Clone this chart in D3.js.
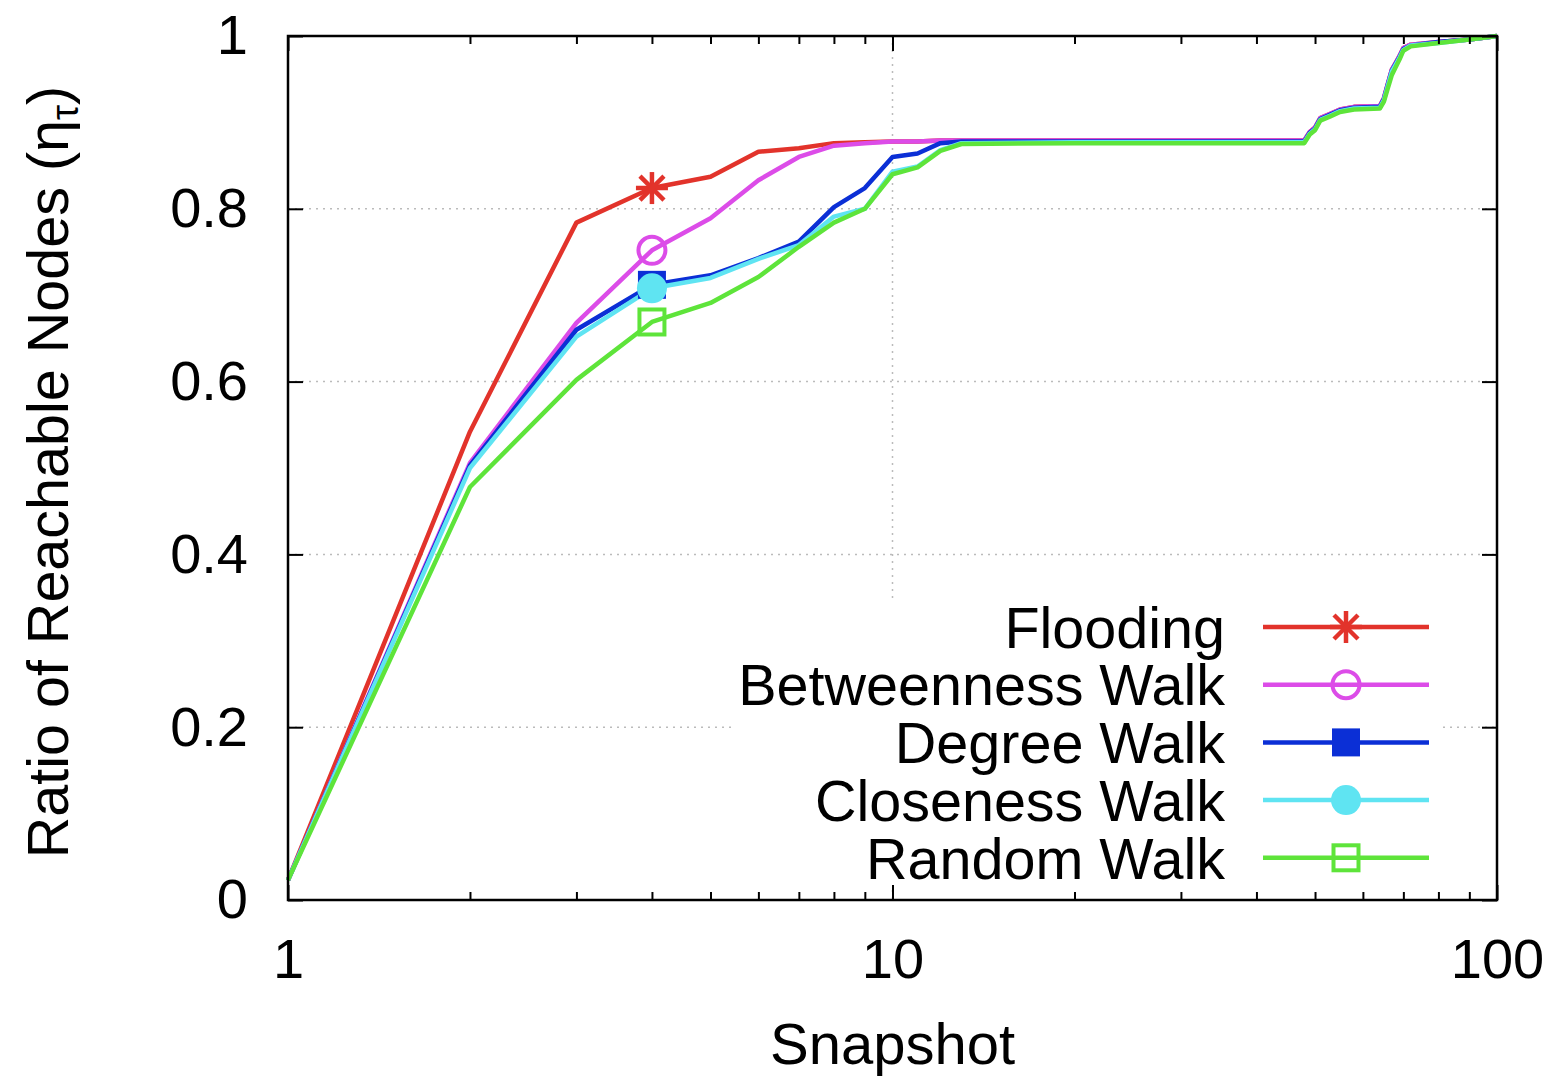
<!DOCTYPE html>
<html>
<head>
<meta charset="utf-8">
<script src="https://cdn.jsdelivr.net/npm/d3@7"></script>
<style>
body{margin:0;background:#fff;}
text{font-family:"Liberation Sans",Arial,Helvetica,sans-serif;fill:#000;}
</style>
</head>
<body>
<svg id="chart" width="1559" height="1076"></svg>
<script>
// snapshots (x) and ratio of reachable nodes per method
var snapshots=[1,2,3,4,5,6,7,8,9,10,11,12,13,20,30,40,48,49,50,51,53,55,58,64,65,66,67,68,69,70,72,80,90,100];
var flooding=[0.023,0.542,0.784,0.824,0.837,0.866,0.870,0.876,0.877,0.878,0.878,0.879,0.879,0.879,0.879,0.879,0.879,0.889,0.894,0.905,0.910,0.915,0.918,0.919,0.928,0.945,0.961,0.969,0.977,0.986,0.990,0.993,0.996,1.0];
var betweenness=[0.023,0.506,0.668,0.752,0.789,0.833,0.860,0.873,0.876,0.878,0.878,0.879,0.879,0.879,0.879,0.879,0.879,0.889,0.894,0.905,0.910,0.915,0.918,0.919,0.928,0.945,0.961,0.969,0.977,0.986,0.990,0.993,0.996,1.0];
var degree=[0.023,0.503,0.660,0.712,0.723,0.743,0.762,0.802,0.824,0.860,0.864,0.876,0.878,0.878,0.878,0.878,0.878,0.888,0.893,0.904,0.909,0.914,0.917,0.918,0.927,0.944,0.960,0.968,0.976,0.985,0.989,0.993,0.996,1.0];
var closeness=[0.023,0.500,0.652,0.708,0.720,0.742,0.758,0.791,0.800,0.843,0.849,0.868,0.876,0.877,0.877,0.877,0.877,0.887,0.892,0.903,0.908,0.913,0.916,0.917,0.926,0.943,0.959,0.967,0.975,0.984,0.989,0.992,0.996,1.0];
var randomWalk=[0.023,0.478,0.602,0.669,0.691,0.721,0.756,0.784,0.800,0.840,0.848,0.867,0.875,0.876,0.876,0.876,0.876,0.886,0.891,0.902,0.907,0.912,0.915,0.916,0.924,0.940,0.955,0.964,0.973,0.983,0.988,0.992,0.996,1.0];
var seriesNames=["Flooding","Betweenness Walk","Degree Walk","Closeness Walk","Random Walk"];
var seriesColors=["#e2332b","#dc4ce8","#0b2fd6","#5fe4f2","#5ee43a"];
var seriesMarkers=["star","circle","squareFilled","circleFilled","square"];
var markerAt=4;
var yTicks=[0,0.2,0.4,0.6,0.8,1];
var yTickLabels=["0","0.2","0.4","0.6","0.8","1"];
var xMajor=[1,10,100];
var xMinor=[2,3,4,5,6,7,8,9,20,30,40,50,60,70,80,90];

var allSeries=[flooding,betweenness,degree,closeness,randomWalk];

var pLeft=288,pRight=1497,pTop=36,pBottom=900;
var svg=d3.select("#chart");
var x=d3.scaleLog().domain([1,100]).range([pLeft,pRight]);
var y=d3.scaleLinear().domain([0,1]).range([pBottom,pTop]);

// grid
var grid=svg.append("g").attr("stroke","#bbb").attr("stroke-width",1.5).attr("stroke-dasharray","2,5");
grid.selectAll("line.h").data(yTicks.slice(1,-1)).enter().append("line")
  .attr("x1",pLeft).attr("x2",pRight).attr("y1",function(d){return y(d)}).attr("y2",function(d){return y(d)});
grid.append("line").attr("x1",x(10)).attr("x2",x(10)).attr("y1",pTop).attr("y2",pBottom);

// lines
var line=d3.line().x(function(d){return x(d[0])}).y(function(d){return y(d[1])});
allSeries.forEach(function(vals,i){
  var pts=snapshots.map(function(s,j){return [s,vals[j]]});
  svg.append("path").datum(pts).attr("d",line).attr("fill","none")
    .attr("stroke",seriesColors[i]).attr("stroke-width",4.5).attr("stroke-linejoin","round");
});

function marker(g,type,cx,cy,color){
  if(type=="star"){
    var r=16;
    [[-r,0,r,0],[0,-r,0,r],[-r*0.75,-r*0.75,r*0.75,r*0.75],[-r*0.75,r*0.75,r*0.75,-r*0.75]].forEach(function(s){
      g.append("line").attr("x1",cx+s[0]).attr("y1",cy+s[1]).attr("x2",cx+s[2]).attr("y2",cy+s[3])
        .attr("stroke",color).attr("stroke-width",4.5);
    });
  }else if(type=="circle"){
    g.append("circle").attr("cx",cx).attr("cy",cy).attr("r",13.5).attr("fill","none").attr("stroke",color).attr("stroke-width",4);
  }else if(type=="circleFilled"){
    g.append("circle").attr("cx",cx).attr("cy",cy).attr("r",15).attr("fill",color);
  }else if(type=="squareFilled"){
    g.append("rect").attr("x",cx-14).attr("y",cy-14).attr("width",28).attr("height",28).attr("fill",color);
  }else{
    g.append("rect").attr("x",cx-12.5).attr("y",cy-12.5).attr("width",25).attr("height",25).attr("fill","none").attr("stroke",color).attr("stroke-width",4);
  }
}

var marks=svg.append("g");
allSeries.forEach(function(vals,i){
  var j=snapshots.indexOf(markerAt);
  marker(marks,seriesMarkers[i],x(markerAt),y(vals[j]),seriesColors[i]);
});

// legend (opaque box)
svg.append("rect").attr("x",732).attr("y",600).attr("width",708).attr("height",285).attr("fill","#fff");
var leg=svg.append("g");
seriesNames.forEach(function(n,i){
  var ly=627+i*57.7;
  leg.append("text").attr("x",1225).attr("y",ly).attr("dy","0.36em").attr("text-anchor","end")
    .attr("font-size",57.5).text(n);
  leg.append("line").attr("x1",1263).attr("x2",1429).attr("y1",ly).attr("y2",ly)
    .attr("stroke",seriesColors[i]).attr("stroke-width",4.5);
  marker(leg,seriesMarkers[i],1346,ly,seriesColors[i]);
});

// axes
function styleAxis(g){
  g.select(".domain").remove();
  g.selectAll(".tick line").attr("stroke","#000").attr("stroke-width",2);
  g.selectAll(".tick text").attr("font-size",56).attr("fill","#000").style("font-family","Liberation Sans, Arial, sans-serif");
}
svg.append("g").attr("transform","translate(0,"+pBottom+")")
  .call(d3.axisBottom(x).tickValues(xMajor).tickFormat(d3.format("d")).tickSizeInner(-15).tickPadding(38))
  .call(styleAxis);
svg.append("g").attr("transform","translate(0,"+pBottom+")")
  .call(d3.axisBottom(x).tickValues(xMinor).tickFormat("").tickSizeInner(-8))
  .call(styleAxis);
svg.append("g").attr("transform","translate(0,"+pTop+")")
  .call(d3.axisTop(x).tickValues(xMajor).tickFormat("").tickSizeInner(-15))
  .call(styleAxis);
svg.append("g").attr("transform","translate(0,"+pTop+")")
  .call(d3.axisTop(x).tickValues(xMinor).tickFormat("").tickSizeInner(-8))
  .call(styleAxis);
svg.append("g").attr("transform","translate("+pLeft+",0)")
  .call(d3.axisLeft(y).tickValues(yTicks).tickFormat(function(d,i){return yTickLabels[i]}).tickSizeInner(-15).tickPadding(40))
  .call(styleAxis);
svg.append("g").attr("transform","translate("+pRight+",0)")
  .call(d3.axisRight(y).tickValues(yTicks).tickFormat("").tickSizeInner(-15))
  .call(styleAxis);

svg.append("rect").attr("x",pLeft).attr("y",pTop).attr("width",pRight-pLeft).attr("height",pBottom-pTop)
  .attr("fill","none").attr("stroke","#000").attr("stroke-width",2.5);

// axis titles
svg.append("text").attr("x",(pLeft+pRight)/2).attr("y",1064).attr("text-anchor","middle").attr("font-size",58).text("Snapshot");
var yl=svg.append("text").attr("transform","translate(68,"+((pTop+pBottom)/2+4)+") rotate(-90)")
  .attr("text-anchor","middle").attr("font-size",57.5);
yl.append("tspan").text("Ratio of Reachable Nodes (\u03b7");
yl.append("tspan").attr("font-size",38).attr("dy",10).text("\u03c4");
yl.append("tspan").attr("dy",-10).text(")");
</script>
</body>
</html>
